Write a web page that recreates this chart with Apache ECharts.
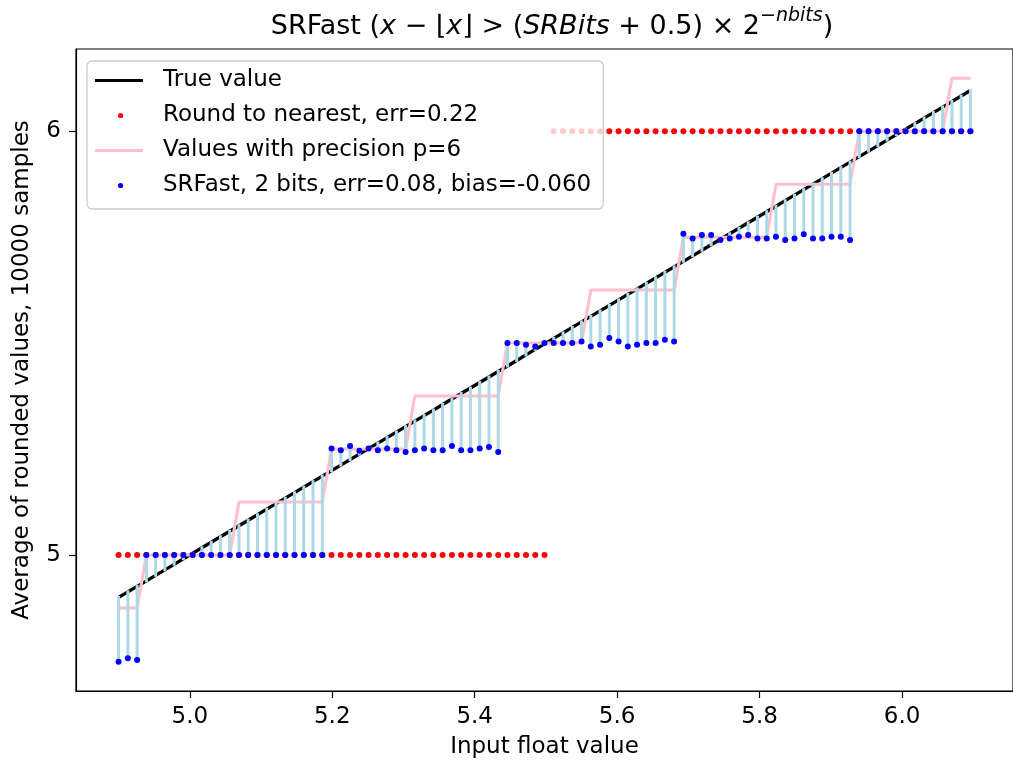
<!DOCTYPE html>
<html>
<head>
<meta charset="utf-8">
<script src="https://cdn.jsdelivr.net/npm/echarts@6.0.0/dist/echarts.min.js"></script>
<style>
html,body{margin:0;padding:0;background:#fff;}
#chart{width:1013px;height:764px;}
</style>
</head>
<body>
<div id="chart"></div>
<script>
// Input float values (x axis)
const xValues = [
  4.900,4.913,4.926,4.939,4.952,4.965,4.978,4.991,5.004,5.017,
  5.030,5.043,5.056,5.069,5.082,5.095,5.108,5.121,5.134,5.147,
  5.160,5.173,5.186,5.199,5.212,5.225,5.238,5.251,5.264,5.277,
  5.290,5.303,5.316,5.329,5.342,5.355,5.368,5.381,5.394,5.407,
  5.420,5.433,5.446,5.459,5.472,5.485,5.498,5.511,5.524,5.537,
  5.550,5.563,5.576,5.589,5.602,5.615,5.628,5.641,5.654,5.667,
  5.680,5.693,5.706,5.719,5.732,5.745,5.758,5.771,5.784,5.797,
  5.810,5.823,5.836,5.849,5.862,5.875,5.888,5.901,5.914,5.927,
  5.940,5.953,5.966,5.979,5.992,6.005,6.018,6.031,6.044,6.057,
  6.070,6.083,6.096
];
// Round to nearest
const roundNearest = [
  5,5,5,5,5,5,5,5,5,5,
  5,5,5,5,5,5,5,5,5,5,
  5,5,5,5,5,5,5,5,5,5,
  5,5,5,5,5,5,5,5,5,5,
  5,5,5,5,5,5,5,6,6,6,
  6,6,6,6,6,6,6,6,6,6,
  6,6,6,6,6,6,6,6,6,6,
  6,6,6,6,6,6,6,6,6,6,
  6,6,6,6,6,6,6,6,6,6,
  6,6,6
];
// Values with precision p=6
const precisionValues = [
  4.875,4.875,4.875,5,5,5,5,5,5,5,
  5,5,5,5.125,5.125,5.125,5.125,5.125,5.125,5.125,
  5.125,5.125,5.125,5.25,5.25,5.25,5.25,5.25,5.25,5.25,
  5.25,5.25,5.375,5.375,5.375,5.375,5.375,5.375,5.375,5.375,
  5.375,5.375,5.5,5.5,5.5,5.5,5.5,5.5,5.5,5.5,
  5.5,5.625,5.625,5.625,5.625,5.625,5.625,5.625,5.625,5.625,
  5.625,5.75,5.75,5.75,5.75,5.75,5.75,5.75,5.75,5.75,
  5.75,5.875,5.875,5.875,5.875,5.875,5.875,5.875,5.875,5.875,
  6,6,6,6,6,6,6,6,6,6,
  6.125,6.125,6.125
];
// SRFast averages (2 bits, 10000 samples)
const srfastValues = [
  4.748,4.756,4.752,5,5,5,5,5,5,5,
  5,5,5,5,5,5,5,5,5,5,
  5,5,5,5.251,5.247,5.257,5.246,5.251,5.247,5.251,
  5.247,5.243,5.247,5.251,5.247,5.247,5.257,5.247,5.247,5.251,
  5.255,5.243,5.500,5.500,5.496,5.492,5.500,5.500,5.500,5.500,
  5.504,5.492,5.496,5.512,5.504,5.492,5.496,5.500,5.500,5.508,
  5.504,5.758,5.747,5.755,5.755,5.743,5.747,5.751,5.755,5.747,
  5.747,5.751,5.743,5.747,5.757,5.747,5.747,5.751,5.751,5.743,
  6,6,6,6,6,6,6,6,6,6,
  6,6,6
];
const xTicks = [5.0, 5.2, 5.4, 5.6, 5.8, 6.0];
const yTicks = [5, 6];
const seriesNames = [
  'True value',
  'Round to nearest, err=0.22',
  'Values with precision p=6',
  'SRFast, 2 bits, err=0.08, bias=-0.060'
];

const FONT = 'DejaVu Sans';
const FS = 23;
const LINE_ICON = 'path://M0,0L0.01,0L0,0.01ZM0,11.9L48,11.9L48,15.1L0,15.1ZM63,27L62.99,27L63,26.99Z';
const DOT_ICON = 'path://M0,0L0.01,0L0,0.01ZM23,13.5A2.6,2.6,0,1,1,28.2,13.5A2.6,2.6,0,1,1,23,13.5ZM63,27L62.99,27L63,26.99Z';

const chart = echarts.init(document.getElementById('chart'), null, {renderer: 'canvas'});

const trueData = xValues.map(x => [x, x]);
const rnData = xValues.map((x, i) => [x, roundNearest[i]]);
const pData = xValues.map((x, i) => [x, precisionValues[i]]);
const srData = xValues.map((x, i) => [x, srfastValues[i]]);
const vlineData = xValues.map((x, i) => [x, x, srfastValues[i]]);

const option = {
  animation: false,
  backgroundColor: '#fff',
  title: {
    text: '{n|SRFast (}{i|x}{n| − ⌊}{i|x}{n|⌋ > (}{i|SRBits}{n| + 0.5) × 2}{s|−}{si|nbits}{n|)}',
    left: 547,
    top: 2,
    textAlign: 'center',
    textStyle: {
      fontWeight: 'normal',
      rich: {
        n: {fontSize: 27, fontFamily: FONT, fontWeight: 'normal', color: '#000'},
        i: {fontSize: 27, fontFamily: FONT, fontWeight: 'normal', fontStyle: 'italic', color: '#000'},
        s: {fontSize: 19, fontFamily: FONT, fontWeight: 'normal', color: '#000', padding: [0, 0, 20, 0]},
        si: {fontSize: 19, fontFamily: FONT, fontWeight: 'normal', fontStyle: 'italic', color: '#000', padding: [0, 0, 20, 0]}
      }
    }
  },
  legend: {
    orient: 'vertical',
    left: 87,
    top: 61,
    padding: [6, 12, 10, 8],
    itemGap: 8,
    itemWidth: 63,
    itemHeight: 27,
    backgroundColor: 'rgba(255,255,255,0.8)',
    borderColor: '#cccccc',
    borderWidth: 1.3,
    borderRadius: 5,
    z: 10,
    selectedMode: false,
    itemStyle: {borderWidth: 0},
    textStyle: {fontSize: FS, fontFamily: FONT, color: '#000', lineHeight: 27},
    data: [
      {name: seriesNames[0], icon: LINE_ICON},
      {name: seriesNames[1], icon: DOT_ICON},
      {name: seriesNames[2], icon: LINE_ICON},
      {name: seriesNames[3], icon: DOT_ICON}
    ]
  },
  grid: {
    left: 76,
    top: 49,
    width: 944,
    height: 643,
    show: true,
    borderColor: '#000',
    borderWidth: 1.2,
    backgroundColor: 'transparent'
  },
  xAxis: {
    type: 'value',
    min: 4.8402,
    max: 6.1558,
    name: 'Input float value',
    nameLocation: 'middle',
    nameGap: 45,
    nameTextStyle: {fontSize: FS, fontFamily: FONT, color: '#000'},
    axisLine: {show: true, lineStyle: {color: '#000', width: 1.2}},
    axisTick: {show: true, length: 7, customValues: xTicks, lineStyle: {color: '#000', width: 1.2}},
    axisLabel: {customValues: xTicks, margin: 15, fontSize: FS, fontFamily: FONT, color: '#000',
      formatter: v => Number(v).toFixed(1)},
    splitLine: {show: false}
  },
  yAxis: {
    type: 'value',
    min: 4.679,
    max: 6.194,
    name: 'Average of rounded values, 10000 samples',
    nameLocation: 'middle',
    nameRotate: 90,
    nameGap: 42,
    nameTextStyle: {fontSize: FS, fontFamily: FONT, color: '#000'},
    axisLine: {show: true, lineStyle: {color: '#000', width: 1.2}},
    axisTick: {show: true, length: 7, customValues: yTicks, lineStyle: {color: '#000', width: 1.2}},
    axisLabel: {customValues: yTicks, margin: 15, fontSize: FS, fontFamily: FONT, color: '#000',
      formatter: v => String(Math.round(v))},
    splitLine: {show: false}
  },
  series: [
    {
      name: seriesNames[0],
      type: 'line',
      data: trueData,
      symbol: 'none',
      color: '#000',
      lineStyle: {color: '#000', width: 3.3},
      z: 2
    },
    {
      name: seriesNames[1],
      type: 'scatter',
      data: rnData,
      symbol: 'circle',
      symbolSize: 6,
      color: '#ff0000',
      itemStyle: {color: '#ff0000', opacity: 1},
      z: 3
    },
    {
      name: seriesNames[2],
      type: 'line',
      data: pData,
      symbol: 'none',
      color: '#ffc0cb',
      lineStyle: {color: '#ffc0cb', width: 3},
      z: 4
    },
    {
      name: 'vlines',
      type: 'custom',
      data: vlineData,
      encode: {x: 0, y: [1, 2]},
      z: 5,
      renderItem: function (params, api) {
        const x = api.value(0);
        const p0 = api.coord([x, api.value(1)]);
        const p1 = api.coord([x, api.value(2)]);
        return {
          type: 'line',
          shape: {x1: p0[0], y1: p0[1], x2: p1[0], y2: p1[1]},
          style: {stroke: '#add8e6', lineWidth: 3, lineCap: 'square'}
        };
      }
    },
    {
      name: seriesNames[3],
      type: 'scatter',
      data: srData,
      symbol: 'circle',
      symbolSize: 6,
      color: '#0000ff',
      itemStyle: {color: '#0000ff', opacity: 1},
      z: 6
    }
  ]
};
chart.setOption(option);
</script>
</body>
</html>
